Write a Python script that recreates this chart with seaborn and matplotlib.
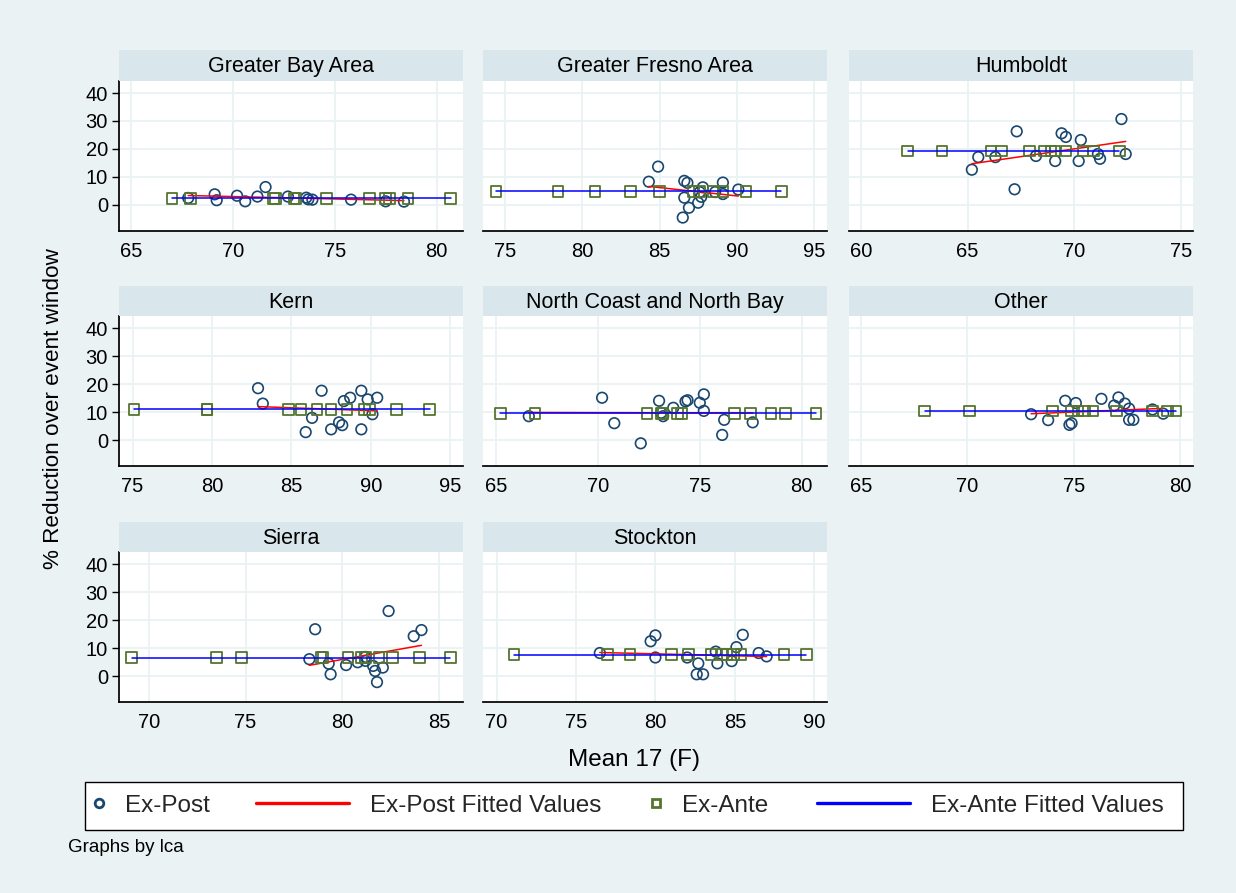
import numpy as np
import pandas as pd
import matplotlib.pyplot as plt
import seaborn as sns
from matplotlib.lines import Line2D
from matplotlib.patches import Rectangle

# values, one pair of arrays per series and region
regions = ['Greater Bay Area', 'Greater Fresno Area', 'Humboldt', 'Kern',
           'North Coast and North Bay', 'Other', 'Sierra', 'Stockton']

bay_post_x = [67.8, 69.1, 69.2, 70.2, 70.6, 71.2, 71.6, 72.7, 73.6, 73.7, 73.9, 75.8, 77.5, 78.4]
bay_post_y = [2.5, 3.8, 1.7, 3.3, 1.3, 3.0, 6.4, 3.0, 2.6, 2.0, 1.9, 1.9, 1.3, 1.2]
bay_ante_x = [67.0, 67.9, 72.0, 72.1, 73.0, 73.1, 74.6, 76.7, 77.5, 77.7, 78.6, 80.7]
bay_ante_y = [2.4, 2.4, 2.4, 2.4, 2.4, 2.4, 2.4, 2.4, 2.4, 2.4, 2.4, 2.4]

fresno_post_x = [84.3, 84.9, 86.5, 86.6, 86.6, 86.8, 86.9, 87.5, 87.6, 87.7, 87.8, 88.6, 89.1, 89.1, 90.1]
fresno_post_y = [8.3, 13.7, -4.5, 8.6, 2.6, 7.9, -1.0, 0.8, 4.6, 2.9, 6.3, 4.6, 8.0, 3.9, 5.5]
fresno_ante_x = [74.4, 78.4, 80.8, 83.1, 85.0, 87.2, 87.6, 88.5, 89.1, 90.6, 92.9]
fresno_ante_y = [4.9, 4.9, 4.9, 4.9, 4.9, 4.9, 4.9, 4.9, 4.9, 4.9, 4.9]

humboldt_post_x = [65.2, 65.5, 66.3, 67.2, 67.3, 68.2, 69.1, 69.4, 69.6, 70.2, 70.3, 71.1, 71.2, 72.2, 72.4]
humboldt_post_y = [12.6, 17.1, 17.1, 5.6, 26.3, 17.5, 15.7, 25.6, 24.3, 15.7, 23.2, 18.2, 16.5, 30.7, 18.2]
humboldt_ante_x = [62.2, 63.8, 66.1, 66.6, 67.9, 68.6, 68.9, 69.1, 69.6, 70.4, 70.9, 72.1]
humboldt_ante_y = [19.3, 19.3, 19.3, 19.3, 19.3, 19.3, 19.3, 19.3, 19.3, 19.3, 19.3, 19.3]

kern_post_x = [82.9, 83.2, 85.9, 86.3, 86.9, 87.5, 88.0, 88.2, 88.3, 88.7, 89.4, 89.4, 89.8, 90.1, 90.4]
kern_post_y = [18.6, 13.1, 2.9, 8.0, 17.7, 3.9, 6.4, 5.4, 14.0, 15.2, 17.7, 3.9, 14.6, 9.3, 15.2]
kern_ante_x = [75.1, 79.7, 79.7, 84.8, 85.6, 86.6, 87.5, 88.5, 89.6, 89.9, 91.6, 93.7]
kern_ante_y = [11.0, 11.0, 11.0, 11.0, 11.0, 11.0, 11.0, 11.0, 11.0, 11.0, 11.0, 11.0]

coast_post_x = [66.6, 70.2, 70.8, 72.1, 73.0, 73.1, 73.2, 73.7, 74.3, 74.4, 75.0, 75.2, 75.2, 76.2, 76.1, 77.6]
coast_post_y = [8.6, 15.2, 6.1, -1.1, 14.1, 9.8, 8.6, 11.6, 13.9, 14.3, 13.4, 16.4, 10.5, 7.3, 1.9, 6.4]
coast_ante_x = [65.2, 66.9, 72.4, 73.1, 73.2, 73.9, 74.1, 76.7, 77.5, 78.5, 79.2, 80.7]
coast_ante_y = [9.6, 9.6, 9.6, 9.6, 9.6, 9.6, 9.6, 9.6, 9.6, 9.6, 9.6, 9.6]

other_post_x = [73.0, 73.8, 74.6, 75.1, 74.8, 74.9, 76.3, 77.1, 76.9, 77.4, 77.6, 77.6, 77.8, 78.7, 79.2]
other_post_y = [9.3, 7.2, 14.1, 13.3, 5.5, 6.1, 14.8, 15.3, 12.4, 13.1, 11.3, 7.3, 7.3, 11.0, 9.5]
other_ante_x = [68.0, 70.1, 74.0, 74.9, 75.2, 75.5, 75.9, 77.0, 78.7, 79.4, 79.8]
other_ante_y = [10.5, 10.5, 10.5, 10.5, 10.5, 10.5, 10.5, 10.5, 10.5, 10.5, 10.5]

sierra_post_x = [78.3, 78.6, 79.3, 79.4, 80.2, 80.8, 81.2, 81.2, 81.6, 81.7, 81.8, 82.1, 82.4, 83.7, 84.1]
sierra_post_y = [6.1, 16.8, 4.5, 0.7, 4.0, 5.0, 5.5, 6.9, 3.7, 1.9, -2.1, 3.1, 23.3, 14.3, 16.5]
sierra_ante_x = [69.1, 73.5, 74.8, 78.9, 79.0, 80.3, 81.0, 81.2, 81.9, 82.6, 84.0, 85.6]
sierra_ante_y = [6.7, 6.7, 6.7, 6.7, 6.7, 6.7, 6.7, 6.7, 6.7, 6.7, 6.7, 6.7]

stockton_post_x = [76.5, 79.7, 80.0, 80.0, 82.0, 82.7, 82.6, 83.0, 83.8, 83.9, 84.8, 85.1, 85.5, 86.5, 87.0]
stockton_post_y = [8.3, 12.5, 14.6, 6.7, 6.7, 4.6, 0.7, 0.7, 8.8, 4.6, 5.4, 10.4, 14.8, 8.3, 7.1]
stockton_ante_x = [71.1, 77.0, 78.4, 81.0, 82.1, 83.5, 84.2, 84.5, 84.9, 85.4, 88.1, 89.5]
stockton_ante_y = [7.7, 7.7, 7.7, 7.7, 7.7, 7.7, 7.7, 7.7, 7.7, 7.7, 7.7, 7.7]

series = {
    'Greater Bay Area': (bay_post_x, bay_post_y, bay_ante_x, bay_ante_y),
    'Greater Fresno Area': (fresno_post_x, fresno_post_y, fresno_ante_x, fresno_ante_y),
    'Humboldt': (humboldt_post_x, humboldt_post_y, humboldt_ante_x, humboldt_ante_y),
    'Kern': (kern_post_x, kern_post_y, kern_ante_x, kern_ante_y),
    'North Coast and North Bay': (coast_post_x, coast_post_y, coast_ante_x, coast_ante_y),
    'Other': (other_post_x, other_post_y, other_ante_x, other_ante_y),
    'Sierra': (sierra_post_x, sierra_post_y, sierra_ante_x, sierra_ante_y),
    'Stockton': (stockton_post_x, stockton_post_y, stockton_ante_x, stockton_ante_y),
}

# per-panel x axis range (each panel has its own scale)
xlims = {
    'Greater Bay Area': (64.4, 81.3), 'Greater Fresno Area': (73.55, 95.85),
    'Humboldt': (59.45, 75.55), 'Kern': (74.15, 95.8),
    'North Coast and North Bay': (64.35, 81.25), 'Other': (64.45, 80.6),
    'Sierra': (68.45, 86.25), 'Stockton': (69.15, 90.8),
}

rows = []
for reg, (px, py, ax_, ay) in series.items():
    rows += [(reg, 'Ex-Post', x, y) for x, y in zip(px, py)]
    rows += [(reg, 'Ex-Ante', x, y) for x, y in zip(ax_, ay)]
df = pd.DataFrame(rows, columns=['lca', 'kind', 'temp', 'reduction'])

sns.set_theme(style='white')
plt.rcParams['font.family'] = ['Liberation Sans', 'DejaVu Sans']

BG = '#EAF2F3'
STRIP = '#D9E6EB'
NAVY = '#1A476F'
GREEN = '#55752F'
W, H = 1236, 893

fig = plt.figure(figsize=(12.36, 8.93), dpi=100, facecolor=BG)

col_left = [119, 483, 849]
row_top = [80.7, 316, 552]
pw, ph, sh = 344, 150, 30.5

for i, reg in enumerate(regions):
    r, c = divmod(i, 3)
    ax = fig.add_axes([col_left[c] / W, 1 - (row_top[r] + ph) / H, pw / W, ph / H])
    d = df[df['lca'] == reg]
    post = d[d['kind'] == 'Ex-Post']
    ante = d[d['kind'] == 'Ex-Ante']

    sns.scatterplot(data=post, x='temp', y='reduction', ax=ax, marker='o', s=58,
                    facecolor='none', edgecolor=NAVY, linewidth=1.2, zorder=3)
    sns.regplot(data=post, x='temp', y='reduction', ax=ax, scatter=False, ci=None,
                color='red', line_kws={'lw': 1.1, 'zorder': 4})
    sns.scatterplot(data=ante, x='temp', y='reduction', ax=ax, marker='s', s=58,
                    facecolor='none', edgecolor=GREEN, linewidth=1.3, zorder=5)
    sns.regplot(data=ante, x='temp', y='reduction', ax=ax, scatter=False, ci=None,
                color='blue', line_kws={'lw': 1.1, 'zorder': 6})

    lo, hi = xlims[reg]
    ax.set_xlim(lo, hi)
    ax.set_ylim(-9.2, 44.4)
    ax.set_xticks(np.arange(np.ceil(lo / 5) * 5, hi, 5))
    ax.set_yticks([0, 10, 20, 30, 40])
    ax.set_xlabel('')
    ax.set_ylabel('')
    ax.set_facecolor('white')
    ax.grid(True, color=BG, lw=1.3)
    ax.set_axisbelow(True)
    for s in ['top', 'right']:
        ax.spines[s].set_visible(False)
    ax.spines['bottom'].set_color('black')
    ax.spines['left'].set_color('black')
    ax.spines['left'].set_visible(c == 0)
    ax.tick_params(axis='both', direction='out', length=5, width=1, color='black',
                   labelsize=14.5, labelcolor='black', pad=3)
    ax.tick_params(axis='y', left=(c == 0), labelleft=(c == 0))

    # panel header
    sax = fig.add_axes([col_left[c] / W, 1 - row_top[r] / H, pw / W, sh / H])
    sax.set_facecolor(STRIP)
    sax.set_xticks([])
    sax.set_yticks([])
    for s in sax.spines.values():
        s.set_visible(False)
    sax.text(0.5, 0.45, reg, ha='center', va='center', fontsize=15.5,
             color='black', transform=sax.transAxes)

fig.text(54 / W, 1 - 409 / H, '% Reduction over event window', rotation=90,
         ha='center', va='center', fontsize=16.2, color='black')
fig.text(634 / W, 1 - 760 / H, 'Mean 17 (F)', ha='center', va='center',
         fontsize=17.5, color='black')
fig.text(68 / W, 1 - 848 / H, 'Graphs by lca', ha='left', va='center',
         fontsize=13.5, color='black')

# legend: white box with four keys laid out like the Stata legend row
fig.add_artist(Rectangle((85 / W, 1 - 829.5 / H), 1098 / W, 48 / H,
                         transform=fig.transFigure, fc='white', ec='black', lw=1.0, zorder=1))

keys = [
    (Line2D([], [], ls='none', marker='o', ms=6.2, mfc='none', mec=NAVY, mew=2.0), 'Ex-Post', 93.5, 0.45),
    (Line2D([], [], color='red', lw=2.4), 'Ex-Post Fitted Values', 256, 3.83),
    (Line2D([], [], ls='none', marker='s', ms=6.2, mfc='none', mec=GREEN, mew=2.0), 'Ex-Ante', 650.5, 0.45),
    (Line2D([], [], color='blue', lw=2.4), 'Ex-Ante Fitted Values', 817, 3.83),
]
for handle, label, x0, hl in keys:
    fig.legend([handle], [label], loc='center left', bbox_to_anchor=(x0 / W, 1 - 805.5 / H),
               fontsize=17.5, handlelength=hl, handletextpad=0.84, borderpad=0,
               borderaxespad=0, frameon=False)

fig.savefig('out.png', dpi=100, facecolor=BG)
